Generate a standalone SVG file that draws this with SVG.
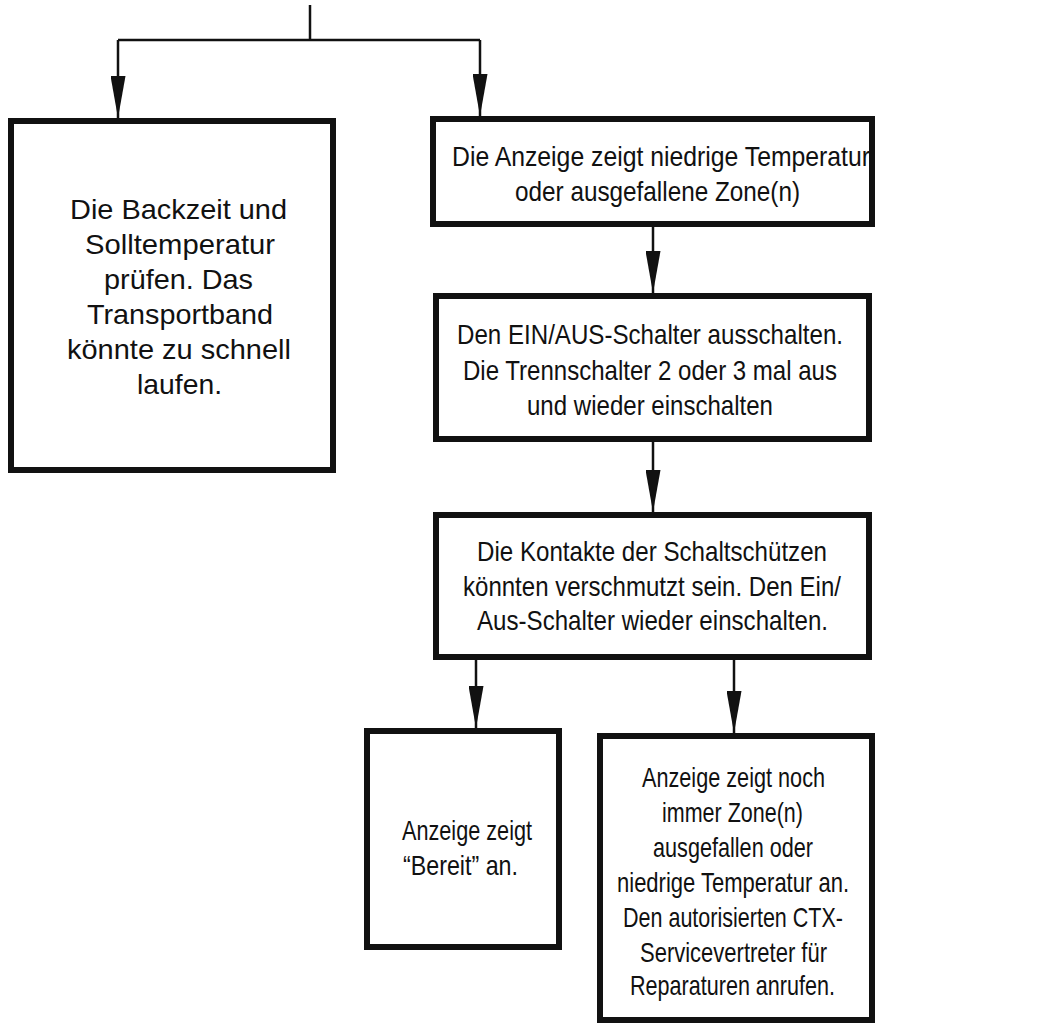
<svg xmlns="http://www.w3.org/2000/svg" width="1051" height="1025" viewBox="0 0 1051 1025">
<style>
.box{fill:#fff;stroke:#111;stroke-width:6}
.con{fill:none;stroke:#111;stroke-width:2.5}
text{font-family:"Liberation Sans",Arial,Helvetica,sans-serif;font-size:28px;fill:#111}
</style>
<defs>
<marker id="ah" markerUnits="userSpaceOnUse" markerWidth="42" markerHeight="15" refX="42" refY="7.5" orient="auto">
<path d="M0,0 L42,7.5 L0,15 z" fill="#111"/>
</marker>
</defs>
<rect width="1051" height="1025" fill="#fff"/>
<g id="connectors">
<path class="con" d="M310,5 V40"/>
<path class="con" d="M118,40 H480"/>
<path class="con" d="M118,40 V118" marker-end="url(#ah)"/>
<path class="con" d="M480,40 V116" marker-end="url(#ah)"/>
<path class="con" d="M653,227 V293" marker-end="url(#ah)"/>
<path class="con" d="M653,442 V512" marker-end="url(#ah)"/>
<path class="con" d="M476,660 V728" marker-end="url(#ah)"/>
<path class="con" d="M734,660 V733" marker-end="url(#ah)"/>
</g>
<g id="n1">
<rect class="box" x="11" y="121" width="322" height="349"/>
<text x="70" y="219" textLength="217" lengthAdjust="spacingAndGlyphs">Die Backzeit und</text>
<text x="85" y="254" textLength="190" lengthAdjust="spacingAndGlyphs">Solltemperatur</text>
<text x="104" y="289" textLength="149" lengthAdjust="spacingAndGlyphs">prüfen. Das</text>
<text x="87" y="324" textLength="186" lengthAdjust="spacingAndGlyphs">Transportband</text>
<text x="67" y="359" textLength="224" lengthAdjust="spacingAndGlyphs">könnte zu schnell</text>
<text x="137" y="394" textLength="85" lengthAdjust="spacingAndGlyphs">laufen.</text>
</g>
<g id="n2">
<rect class="box" x="433" y="119" width="439" height="105"/>
<text x="452" y="166" textLength="418" lengthAdjust="spacingAndGlyphs">Die Anzeige zeigt niedrige Temperatur</text>
<text x="515" y="201" textLength="285" lengthAdjust="spacingAndGlyphs">oder ausgefallene Zone(n)</text>
</g>
<g id="n3">
<rect class="box" x="436" y="296" width="433" height="143"/>
<text x="457" y="344" textLength="386" lengthAdjust="spacingAndGlyphs">Den EIN/AUS-Schalter ausschalten.</text>
<text x="463" y="380" textLength="374" lengthAdjust="spacingAndGlyphs">Die Trennschalter 2 oder 3 mal aus</text>
<text x="527" y="415" textLength="246" lengthAdjust="spacingAndGlyphs">und wieder einschalten</text>
</g>
<g id="n4">
<rect class="box" x="436" y="515" width="433" height="142"/>
<text x="477" y="561" textLength="350" lengthAdjust="spacingAndGlyphs">Die Kontakte der Schaltschützen</text>
<text x="463" y="596" textLength="378" lengthAdjust="spacingAndGlyphs">könnten verschmutzt sein. Den Ein/</text>
<text x="477" y="630" textLength="351" lengthAdjust="spacingAndGlyphs">Aus-Schalter wieder einschalten.</text>
</g>
<g id="n5">
<rect class="box" x="367" y="731" width="192" height="216"/>
<text x="402" y="840" textLength="130" lengthAdjust="spacingAndGlyphs">Anzeige zeigt</text>
<text x="403" y="875" textLength="115" lengthAdjust="spacingAndGlyphs">“Bereit” an.</text>
</g>
<g id="n6">
<rect class="box" x="600" y="736" width="272" height="284"/>
<text x="642" y="787" textLength="183" lengthAdjust="spacingAndGlyphs">Anzeige zeigt noch</text>
<text x="662" y="822" textLength="141" lengthAdjust="spacingAndGlyphs">immer Zone(n)</text>
<text x="653" y="857" textLength="160" lengthAdjust="spacingAndGlyphs">ausgefallen oder</text>
<text x="617" y="892" textLength="232" lengthAdjust="spacingAndGlyphs">niedrige Temperatur an.</text>
<text x="623" y="927" textLength="220" lengthAdjust="spacingAndGlyphs">Den autorisierten CTX-</text>
<text x="640" y="962" textLength="187" lengthAdjust="spacingAndGlyphs">Servicevertreter für</text>
<text x="630" y="995" textLength="205" lengthAdjust="spacingAndGlyphs">Reparaturen anrufen.</text>
</g>
</svg>
